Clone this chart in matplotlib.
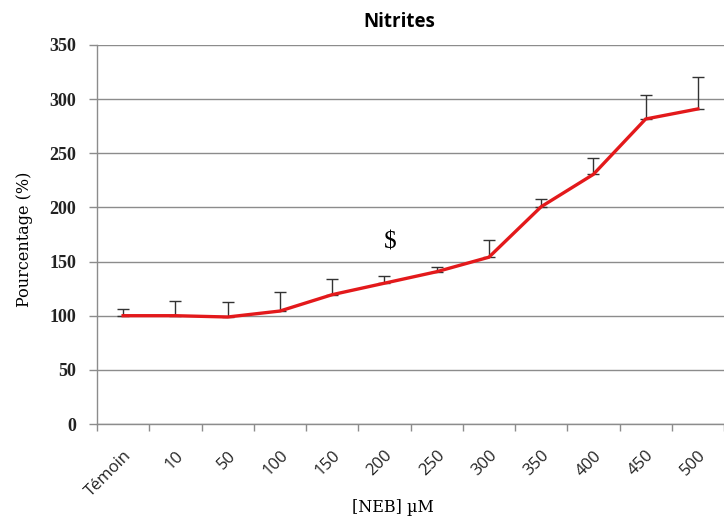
import matplotlib
matplotlib.use("Agg")
import matplotlib.pyplot as plt
import numpy as np

categories = ["Témoin", "10", "50", "100", "150", "200", "250", "300", "350", "400", "450", "500"]
values = [100, 100, 98.8, 104.3, 119.4, 130, 140.6, 154, 200.6, 230.5, 281.6, 290.9]
err_plus = [6, 14, 14.2, 17.3, 14.6, 7, 4.1, 16, 6.9, 15.4, 21.9, 29.8]
annot_text = "$"
annot_cat = 5
annot_y = 167.6

fig = plt.figure(figsize=(7.24, 5.2), dpi=100)
ax = fig.add_axes([0.134, 0.1846, 0.866, 0.729])

x = np.arange(len(categories))
ax.errorbar(x, values, yerr=[np.zeros(len(values)), err_plus], fmt='none',
            ecolor='#333333', elinewidth=1.0, capsize=4, capthick=1.0, zorder=2)
ax.plot(x, values, color='#e3191b', lw=2.4, zorder=3, solid_joinstyle='miter')

ax.annotate(annot_text, xy=(annot_cat, annot_y), xytext=(4, 0), textcoords='offset points',
            ha='center', va='center', fontsize=18, family='Liberation Serif', color='black')

ax.set_xlim(-0.5, len(categories) - 0.5)
ax.set_ylim(0, 350)
ax.set_yticks(np.arange(0, 351, 50))
ax.yaxis.grid(True, color='#8c8c8c', lw=1.0)
ax.set_axisbelow(True)

ax.set_xticks(x)
ax.set_xticklabels(categories, rotation=45, ha='right', rotation_mode='anchor',
                   family='Open Sans', fontsize=12, color='#222222')
ax.set_xticks(np.arange(-0.5, len(categories), 1.0), minor=True)
ax.tick_params(axis='x', which='major', length=0, pad=17)
ax.tick_params(axis='x', which='minor', length=5, color='#8c8c8c', width=1)
ax.tick_params(axis='y', length=6, color='#8c8c8c', width=1, pad=9)
for lab in ax.get_yticklabels():
    lab.set_family('Liberation Serif')
    lab.set_fontsize(13)
    lab.set_fontweight('bold')
    lab.set_color('#222222')

for s in ['top', 'right']:
    ax.spines[s].set_visible(False)
for s in ['left', 'bottom']:
    ax.spines[s].set_color('#8c8c8c')
    ax.spines[s].set_linewidth(1.0)

ax.set_title("Nitrites", family='Open Sans', fontsize=13.5, fontweight='bold', pad=13, x=0.482)
ax.set_ylabel("Pourcentage (%)", family='DejaVu Serif', fontsize=11.5)
ax.yaxis.set_label_coords(-0.102, 0.487)
ax.set_xlabel("[NEB] µM", family='DejaVu Serif', fontsize=11.5)
ax.xaxis.set_label_coords(0.472, -0.198)

fig.savefig("out.png", dpi=100)
